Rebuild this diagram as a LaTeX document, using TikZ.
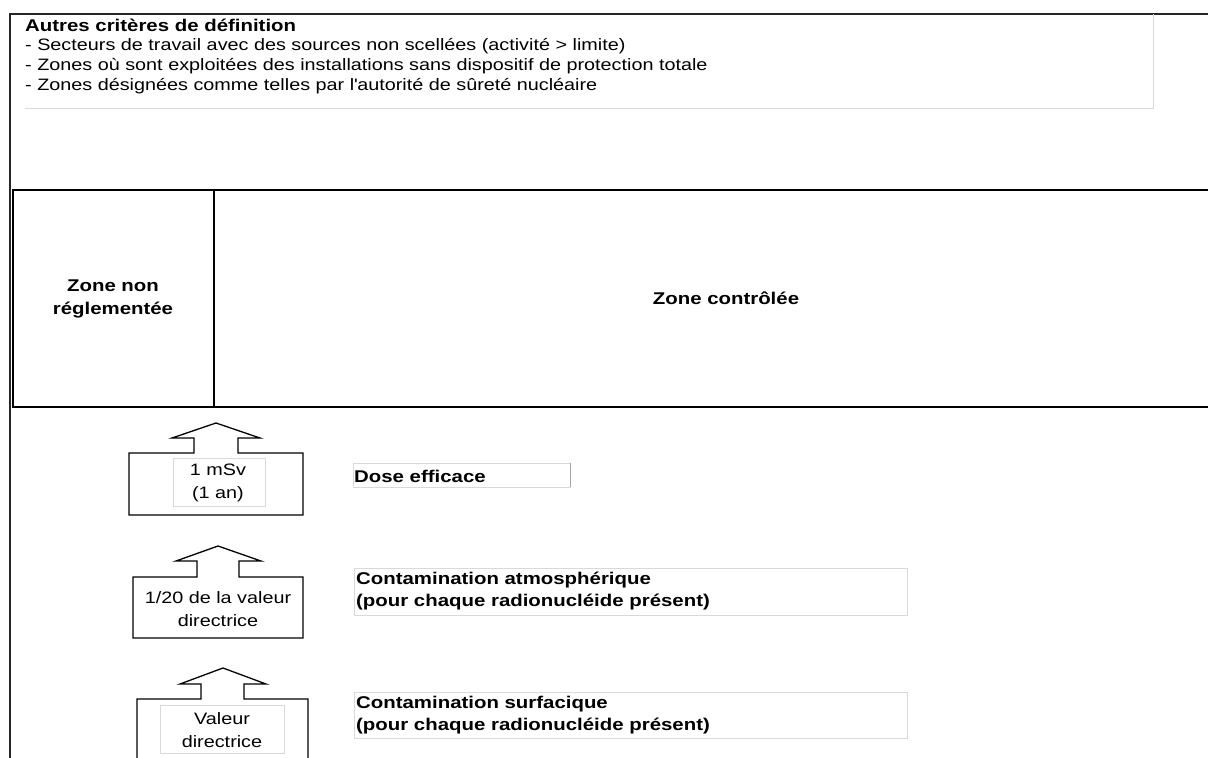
\documentclass[tikz,border=0pt]{standalone}
\usepackage{fontspec}
\setmainfont[FakeStretch=1.2]{Liberation Sans}
\begin{document}
\begin{tikzpicture}[x=1pt,y=-1pt,
  frame/.style={draw=black!85,line width=1.4pt},
  zonebox/.style={draw=black,line width=1.3pt},
  softbox/.style={draw=black!15,line width=0.8pt},
  blockarrow/.style={draw=black,line width=1.3pt,line join=miter},
  bodytxt/.style={inner sep=0pt,anchor=west,align=left,font=\fontsize{16.5}{20}\selectfont},
  headtxt/.style={inner sep=0pt,anchor=west,align=left,font=\fontsize{17}{22}\selectfont\bfseries},
  zonetxt/.style={inner sep=0pt,align=center,font=\fontsize{17}{23}\selectfont\bfseries},
  valtxt/.style={inner sep=0pt,align=center,font=\fontsize{16.5}{23}\selectfont}]
\useasboundingbox (0,0) rectangle (1208,758);
\clip (0,0) rectangle (1208,758);
\fill[white] (0,0) rectangle (1208,758);

% outer frame, running past the page on the right and at the bottom
\draw[frame] (10,770) -- (10,14) -- (1240,14);

% criteria panel
\draw[softbox] (25,108) -- (1153,108) -- (1153,14);
\node[headtxt] (crit) at (25,25) {Autres critères de définition};
\node[bodytxt] (c1) at (25,46) {- Secteurs de travail avec des sources non scellées (activité > limite)};
\node[bodytxt] (c2) at (25,66) {- Zones où sont exploitées des installations sans dispositif de protection totale};
\node[bodytxt] (c3) at (25,86) {- Zones désignées comme telles par l\textquotesingle autorité de sûreté nucléaire};

% zones (the controlled zone continues past the right edge)
\draw[zonebox] (13,190) rectangle (1240,407);
\draw[zonebox] (214,190) -- (214,407);
\node[zonetxt] (znr) at (113,299) {Zone non\\réglementée};
\node[zonetxt] (zc) at (726,298) {Zone contrôlée};

% threshold arrows
\draw[blockarrow] (129,515) -- (129,453) -- (194,453) -- (194,438) -- (172,438) -- (216,423)
  -- (260,438) -- (238,438) -- (238,453) -- (303,453) -- (303,515) -- cycle;
\draw[softbox] (173,458) rectangle (265,506);
\node[valtxt] (v1) at (218,483) {1 mSv\\(1 an)};

\draw[blockarrow] (133,638) -- (133,577) -- (197,577) -- (197,561) -- (176,561) -- (218,546)
  -- (261,561) -- (239,561) -- (239,577) -- (303,577) -- (303,638) -- cycle;
\node[valtxt] (v2) at (218,609) {1/20 de la valeur\\directrice};

\draw[blockarrow] (137,780) -- (137,699) -- (201,699) -- (201,684) -- (180,684) -- (223,668)
  -- (266,684) -- (244,684) -- (244,699) -- (308,699) -- (308,780);
\draw[softbox] (160,705) rectangle (284,753);
\node[valtxt] (v3) at (222,730) {Valeur\\directrice};

% quantities
\draw[softbox] (353,463) rectangle (570,487);
\draw[draw=black!35,line width=0.8pt] (570,463) -- (570,487);
\node[headtxt] (q1) at (354,476) {Dose efficace};
\draw[softbox] (354,568) rectangle (907,615);
\node[headtxt] (q2) at (356,591) {Contamination atmosphérique\\(pour chaque radionucléide présent)};
\draw[softbox] (354,692) rectangle (907,738);
\node[headtxt] (q3) at (356,715) {Contamination surfacique\\(pour chaque radionucléide présent)};
\end{tikzpicture}
\end{document}
